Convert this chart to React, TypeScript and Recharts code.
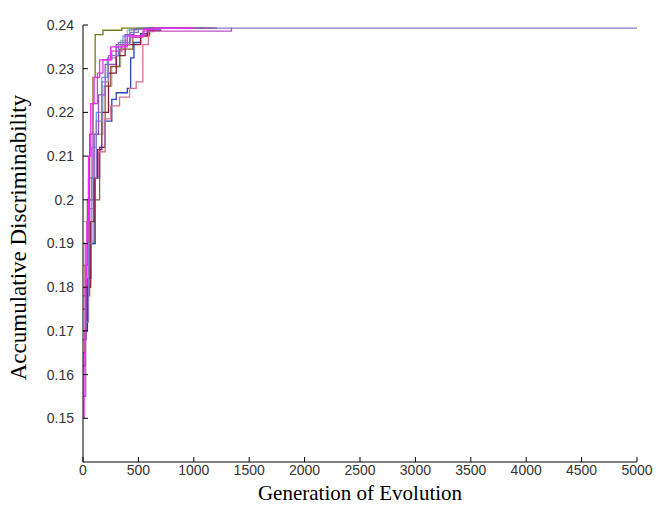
import React from "react";
import { LineChart, Line, XAxis, YAxis } from "recharts";

// [generation, accumulative discriminability] for each run
const olive = [[0, 0.165], [20, 0.185], [40, 0.2], [60, 0.215], [90, 0.228], [110, 0.2378], [180, 0.2388], [350, 0.2393], [1000, 0.2393]];
const blue = [[0, 0.175], [40, 0.182], [70, 0.19], [110, 0.205], [150, 0.212], [200, 0.218], [260, 0.223], [300, 0.2245], [400, 0.2255], [430, 0.2325], [460, 0.236], [520, 0.238], [600, 0.2393], [1100, 0.2393]];
const salmon = [[0, 0.185], [60, 0.198], [100, 0.205], [140, 0.211], [200, 0.2185], [250, 0.2215], [330, 0.2235], [420, 0.2255], [480, 0.227], [540, 0.2355], [590, 0.2385], [640, 0.2393], [1150, 0.2393]];
const darkRed = [[0, 0.162], [20, 0.17], [40, 0.18], [70, 0.195], [100, 0.205], [130, 0.2115], [170, 0.22], [230, 0.229], [300, 0.233], [380, 0.2355], [520, 0.2375], [580, 0.2388], [700, 0.2393], [1210, 0.2393]];
const orchid = [[0, 0.178], [20, 0.19], [50, 0.205], [90, 0.222], [130, 0.229], [180, 0.232], [260, 0.234], [350, 0.2355], [420, 0.2372], [540, 0.2386], [1340, 0.2393], [1345, 0.2393]];
const magenta = [[0, 0.15], [10, 0.165], [20, 0.18], [35, 0.195], [50, 0.21], [70, 0.222], [100, 0.228], [150, 0.232], [250, 0.235], [400, 0.2375], [550, 0.239], [650, 0.2393], [1000, 0.2393]];
const lavender = [[0, 0.155], [25, 0.172], [50, 0.19], [80, 0.205], [120, 0.218], [170, 0.227], [230, 0.233], [320, 0.236], [430, 0.2383], [500, 0.239], [700, 0.2393], [5000, 0.2393]];
const brown = [[0, 0.17], [30, 0.178], [60, 0.19], [100, 0.2], [150, 0.212], [200, 0.226], [250, 0.2305], [330, 0.2345], [450, 0.2375], [600, 0.2393], [1000, 0.2393]];
const skyBlue = [[0, 0.19], [40, 0.2], [80, 0.212], [120, 0.22], [170, 0.228], [220, 0.2325], [300, 0.235], [360, 0.2375], [420, 0.239], [500, 0.2393], [900, 0.2393]];
const sage = [[0, 0.195], [50, 0.205], [100, 0.215], [180, 0.226], [260, 0.2305], [340, 0.2365], [400, 0.2388], [480, 0.2393], [800, 0.2393]];
const violet = [[0, 0.168], [30, 0.185], [60, 0.2], [100, 0.215], [140, 0.224], [200, 0.231], [300, 0.2355], [380, 0.2378], [460, 0.239], [560, 0.2393], [950, 0.2393]];

const xTicks = [0, 500, 1000, 1500, 2000, 2500, 3000, 3500, 4000, 4500, 5000];
const yTicks = [0.15, 0.16, 0.17, 0.18, 0.19, 0.2, 0.21, 0.22, 0.23, 0.24];

const runs = [
  { name: "sage", color: "#a8c4a8", points: sage },
  { name: "skyBlue", color: "#62a8dc", points: skyBlue },
  { name: "brown", color: "#9a5a30", points: brown },
  { name: "olive", color: "#7a7a18", points: olive },
  { name: "blue", color: "#2a44c0", points: blue },
  { name: "salmon", color: "#d8708e", points: salmon },
  { name: "violet", color: "#9050d0", points: violet },
  { name: "darkRed", color: "#8b1a3a", points: darkRed },
  { name: "orchid", color: "#c050c0", points: orchid },
  { name: "lavender", color: "#8878c8", points: lavender },
  { name: "magenta", color: "#ff20ff", points: magenta },
];

const tickFont = { fontFamily: "Liberation Sans, Arial, sans-serif", fontSize: 14, fill: "#333" };
const titleFont = "Liberation Serif, Times New Roman, serif";

export default function App() {
  return (
    <div style={{ position: "absolute", left: 0, top: 0, background: "#fff" }}>
      <LineChart
        width={656}
        height={514}
        margin={{ top: 25, right: 19, left: 23, bottom: 12 }}
      >
        <XAxis
          type="number"
          dataKey="x"
          domain={[0, 5000]}
          ticks={xTicks}
          allowDuplicatedCategory={false}
          height={40}
          tickSize={-5}
          tickMargin={8}
          axisLine={{ stroke: "#000" }}
          tickLine={{ stroke: "#000" }}
          tick={tickFont}
          label={({ viewBox }: any) => (
            <text
              x={viewBox.x + viewBox.width / 2}
              y={viewBox.y + 38}
              textAnchor="middle"
              fontFamily={titleFont}
              fontSize={21}
              fill="#000"
            >
              Generation of Evolution
            </text>
          )}
        />
        <YAxis
          type="number"
          dataKey="y"
          domain={[0.14, 0.24]}
          ticks={yTicks}
          allowDataOverflow
          width={60}
          tickSize={-5}
          tickMargin={14}
          tickFormatter={(v: number) => String(+v.toFixed(2))}
          axisLine={{ stroke: "#000" }}
          tickLine={{ stroke: "#000" }}
          tick={tickFont}
          label={({ viewBox }: any) => {
            const cx = viewBox.x - 5;
            const cy = viewBox.y + viewBox.height / 2 - 6;
            return (
              <text
                x={cx}
                y={cy}
                transform={`rotate(-90, ${cx}, ${cy})`}
                textAnchor="middle"
                dominantBaseline="central"
                fontFamily={titleFont}
                fontSize={23}
                fill="#000"
              >
                Accumulative Discriminability
              </text>
            );
          }}
        />
        {runs.map((r) => (
          <Line
            key={r.name}
            data={r.points.map(([x, y]) => ({ x, y }))}
            dataKey="y"
            type="stepAfter"
            stroke={r.color}
            strokeWidth={1.3}
            dot={false}
            isAnimationActive={false}
          />
        ))}
      </LineChart>
    </div>
  );
}
